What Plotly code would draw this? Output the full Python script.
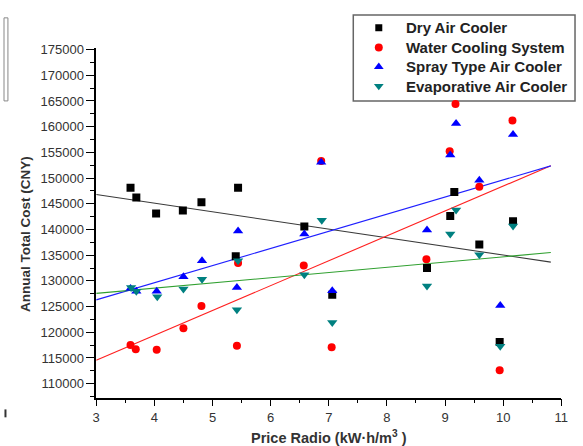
import plotly.graph_objects as go

# ---- data ----
dry_x = [3.59, 3.69, 4.03, 4.49, 4.81, 5.40, 5.44, 6.58, 7.06, 8.69, 9.09, 9.16, 9.59, 9.94, 10.17]
dry_y = [148100, 146200, 143100, 143700, 145300, 134800, 148100, 140600, 127300, 132500, 142600, 147300, 137100, 118100, 141600]

water_x = [3.59, 3.68, 4.04, 4.50, 4.81, 5.42, 5.44, 6.57, 6.87, 7.05, 8.68, 9.08, 9.18, 9.59, 9.94, 10.16]
water_y = [117500, 116700, 116600, 120800, 125100, 117400, 133500, 133000, 153300, 117100, 134200, 155200, 164400, 148300, 112600, 161200]

spray_x = [3.59, 3.69, 4.04, 4.50, 4.82, 5.42, 5.44, 6.58, 6.87, 7.06, 8.69, 9.09, 9.19, 9.59, 9.95, 10.17]
spray_y = [128500, 128000, 128000, 130800, 133900, 128700, 139700, 139100, 153100, 128100, 139900, 154500, 160600, 149600, 125200, 158500]

evap_x = [3.60, 3.69, 4.05, 4.50, 4.82, 5.42, 5.44, 6.58, 6.88, 7.06, 8.69, 9.09, 9.19, 9.59, 9.95, 10.17]
evap_y = [128700, 128000, 126900, 128400, 130300, 124400, 133900, 131200, 141800, 121900, 129000, 139100, 143800, 135100, 117300, 140700]

# linear trend lines (end points)
fit_x = [3.0, 10.82]
dry_fit = [146800, 133650]
water_fit = [114550, 152400]
spray_fit = [126300, 152370]
evap_fit = [127560, 135510]

names = ["Dry Air Cooler", "Water Cooling System", "Spray Type Air Cooler", "Evaporative Air Cooler"]

FONT = "Arial, 'Liberation Sans', sans-serif"
W, H = 583.0, 446.0
L, R, T, B = 94.0, 568.0, 43.0, 397.0   # plot area in px


def fx(xp):
    return xp / W


def fy(yp):
    return 1 - yp / H


fig = go.Figure()

# trend lines
for fyv, col in [(dry_fit, "#3a3a3a"), (water_fit, "#ff2020"), (spray_fit, "#2020ff"), (evap_fit, "#30a030")]:
    fig.add_trace(go.Scatter(x=fit_x, y=fyv, mode="lines", line=dict(color=col, width=1.1),
                             showlegend=False, hoverinfo="skip"))

styles = [("square", "#000000", 8, 7), ("circle", "#ff0000", 8, 8),
          ("triangle-up", "#0000ff", 9, 8.5), ("triangle-down", "#008080", 9, 8.5)]
data = [(dry_x, dry_y), (water_x, water_y), (spray_x, spray_y), (evap_x, evap_y)]
for (xs, ys), (sym, col, sz, _), nm in zip(data, styles, names):
    fig.add_trace(go.Scatter(x=xs, y=ys, mode="markers", name=nm, showlegend=False,
                             marker=dict(symbol=sym, color=col, size=sz, line=dict(width=0))))

# ---- hand-drawn legend (overlay axes in pixel units) ----
leg_rows = [23, 43, 62.5, 82]
for (sym, col, _, lsz), nm, ry in zip(styles, names, leg_rows):
    fig.add_trace(go.Scatter(x=[382], y=[ry], mode="markers", xaxis="x2", yaxis="y2",
                             showlegend=False, hoverinfo="skip",
                             marker=dict(symbol=sym, color=col, size=lsz, line=dict(width=0))))
    fig.add_annotation(text=nm, xref="paper", yref="paper", x=fx(408), y=fy(ry),
                       xanchor="left", yanchor="middle", showarrow=False,
                       font=dict(family=FONT, size=15, color="#222222", weight="bold"))

fig.update_layout(
    width=583, height=446,
    margin=dict(l=0, r=0, t=0, b=0),
    paper_bgcolor="white", plot_bgcolor="rgba(0,0,0,0)",
    font=dict(family=FONT, size=12, color="#222222"),
    showlegend=False,
    xaxis=dict(
        domain=[L / W, R / W],
        range=[3, 11], dtick=1, tick0=3,
        showgrid=False, zeroline=False,
        showline=True, linecolor="black", linewidth=1.5,
        ticks="outside", ticklen=7, tickwidth=1.2, tickcolor="black",
        minor=dict(ticks="outside", ticklen=4, dtick=0.5, tickcolor="black", tickwidth=1),
        tickfont=dict(size=13, color="#333333", family=FONT),
    ),
    yaxis=dict(
        domain=[1 - B / H, 1 - T / H],
        range=[107300, 175400], dtick=5000, tick0=110000,
        showgrid=False, zeroline=False,
        showline=True, linecolor="black", linewidth=1.5,
        ticks="outside", ticklen=8, tickwidth=1.2, tickcolor="black",
        minor=dict(ticks="outside", ticklen=4, dtick=2500, tickcolor="black", tickwidth=1),
        tickfont=dict(size=13, color="#333333", family=FONT),
        tickformat="d",
    ),
    xaxis2=dict(domain=[0, 1], range=[0, W], visible=False, fixedrange=True, anchor="y2"),
    yaxis2=dict(domain=[0, 1], range=[H, 0], visible=False, fixedrange=True, anchor="x2"),
)

# legend frame (below the legend markers)
fig.add_shape(type="rect", xref="paper", yref="paper",
              x0=fx(356), x1=fx(582), y0=fy(97), y1=fy(10),
              line=dict(color="#666666", width=1.5), fillcolor="white", layer="below")

# axis titles
fig.add_annotation(text="Price Radio (kW·h/m<sup>3</sup> )", xref="paper", yref="paper",
                   x=fx((L + R) / 2), y=fy(437), xanchor="center", yanchor="middle", showarrow=False,
                   font=dict(family=FONT, size=14.5, color="#333333", weight="bold"))
fig.add_annotation(text="Annual Total Cost (CNY)", xref="paper", yref="paper",
                   x=fx(22), y=fy(232), xanchor="center", yanchor="middle", showarrow=False,
                   textangle=-90,
                   font=dict(family=FONT, size=13.5, color="#333333", weight="bold"))

# stray decorations at the left edge of the picture
fig.add_shape(type="rect", xref="paper", yref="paper",
              x0=fx(0), x1=fx(4), y0=fy(97), y1=fy(13),
              line=dict(color="#888888", width=1), fillcolor="rgba(0,0,0,0)")
fig.add_shape(type="line", xref="paper", yref="paper",
              x0=fx(1.5), x1=fx(1.5), y0=fy(409), y1=fy(417),
              line=dict(color="#333333", width=2))

fig.write_html("out.html")
